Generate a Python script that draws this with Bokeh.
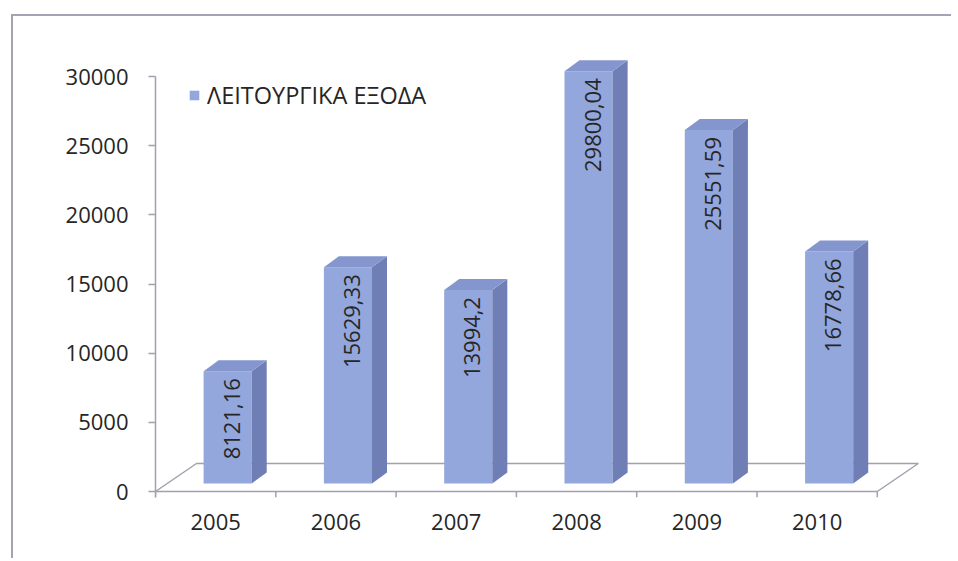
from bokeh.plotting import figure
from bokeh.models import FixedTicker, Legend, LegendItem, ColumnDataSource
from bokeh.embed import file_html
from bokeh.resources import INLINE
from bokeh.core.properties import value
import math

# ---- data ----
years = ["2005", "2006", "2007", "2008", "2009", "2010"]
expenses = [8121.16, 15629.33, 13994.2, 29800.04, 25551.59, 16778.66]
series_name = "ΛΕΙΤΟΥΡΓΙΚΑ ΕΞΟΔΑ"
y_ticks = [0, 5000, 10000, 15000, 20000, 25000, 30000]

# ---- layout constants (canvas pixels) ----
W, H = 940, 544
FL, FR, FT, FB = 142, 917, 24, 481     # frame edges
Z_PX = 475                               # canvas y of value 0
TOP_PX = 60                              # canvas y of value 30000
CAT_PX = 120.3
ppu = (Z_PX - TOP_PX) / y_ticks[-1]      # px per unit
y_start = -(FB - Z_PX) / ppu
y_end = (Z_PX - FT) / ppu
x_end = (FR - FL) / CAT_PX

def dx(px):
    return px / CAT_PX

def dy(px):
    return px / ppu

FLOOR = (41, 28)       # floor depth (right, up) px
BAR_F = (12, 8)        # bar front face shift
BAR_D = (15, 11)       # bar depth
BAR_W = 0.4

FONT = "Open Sans"
TXT = "#262626"
GRAY = "#a0a0ae"
FRONT = "#93a7dc"
SIDE = "#6f7fb6"
TOPC = "#8596cf"

p = figure(width=W, height=H, output_backend="svg", toolbar_location=None,
           x_range=(0, x_end), y_range=(y_start, y_end),
           min_border_left=FL, min_border_right=W - FR,
           min_border_top=FT, min_border_bottom=H - FB)
p.styles = {"margin-left": "11px", "margin-top": "14px",
            "border-left": "2px solid #a3a3b3", "border-top": "2px solid #a3a3b3"}
p.outline_line_color = None
p.grid.visible = False
p.background_fill_color = "white"
p.border_fill_color = "white"

n = len(years)
# floor
fx, fy = dx(FLOOR[0]), dy(FLOOR[1])
p.line([0, fx, n + fx, n], [0, fy, fy, 0], line_color=GRAY, line_width=1.5)
# x axis line and boundary ticks
p.line([0, n], [0, 0], line_color=GRAY, line_width=1.5)
p.segment(x0=list(range(n + 1)), y0=[0] * (n + 1), x1=list(range(n + 1)),
          y1=[y_start] * (n + 1), line_color=GRAY, line_width=1.5)

# bars
fxs, fys = dx(BAR_F[0]), dy(BAR_F[1])
ddx, ddy = dx(BAR_D[0]), dy(BAR_D[1])
front_x, front_y, side_x, side_y, top_x, top_y = [], [], [], [], [], []
for i, v in enumerate(expenses):
    l = i + 0.5 - BAR_W / 2 + fxs
    r = i + 0.5 + BAR_W / 2 + fxs
    b = fys
    t = fys + v
    front_x.append([l, r, r, l]); front_y.append([b, b, t, t])
    side_x.append([r, r + ddx, r + ddx, r]); side_y.append([b, b + ddy, t + ddy, t])
    top_x.append([l, r, r + ddx, l + ddx]); top_y.append([t, t, t + ddy, t + ddy])

front = p.patches(front_x, front_y, fill_color=FRONT, line_color=None)
p.patches(side_x, side_y, fill_color=SIDE, line_color=None)
p.patches(top_x, top_y, fill_color=TOPC, line_color=None)

def fmt(v):
    s = f"{v:.2f}".rstrip("0").rstrip(".")
    return s.replace(".", ",")

lab = ColumnDataSource(dict(
    x=[i + 0.5 + fxs + dx(4) for i in range(n)],
    y=[fys + v for v in expenses],
    t=[fmt(v) for v in expenses]))
p.text(x="x", y="y", text="t", source=lab, angle=math.pi / 2,
       text_align="right", text_baseline="middle", y_offset=7,
       text_font=value(FONT), text_font_size="22px", text_color=TXT)

# axes
p.yaxis.ticker = FixedTicker(ticks=y_ticks)
p.yaxis.bounds = (y_start, y_ticks[-1])
p.yaxis.axis_line_color = GRAY
p.yaxis.axis_line_width = 1.5
p.yaxis.major_tick_line_color = GRAY
p.yaxis.major_tick_line_width = 1.5
p.yaxis.major_tick_out = 7
p.yaxis.major_tick_in = 0
p.yaxis.minor_tick_line_color = None
p.yaxis.major_label_standoff = 20
p.yaxis.major_label_text_font = FONT
p.yaxis.major_label_text_font_size = "22px"
p.yaxis.major_label_text_color = TXT

centers = [i + 0.5 for i in range(n)]
p.xaxis.ticker = FixedTicker(ticks=centers)
p.xaxis.major_label_overrides = {c: y for c, y in zip(centers, years)}
p.xaxis.axis_line_color = None
p.xaxis.major_tick_line_color = None
p.xaxis.minor_tick_line_color = None
p.xaxis.major_tick_out = 0
p.xaxis.major_label_standoff = 16
p.xaxis.major_label_text_font = FONT
p.xaxis.major_label_text_font_size = "22px"
p.xaxis.major_label_text_color = TXT

legend = Legend(items=[LegendItem(label=series_name, renderers=[front])],
                location=(33, 386), orientation="vertical",
                glyph_width=12, glyph_height=12, label_standoff=7,
                label_text_font=FONT, label_text_font_size="23.5px",
                label_text_color=TXT, border_line_color=None,
                background_fill_alpha=0, padding=0, margin=0)
p.add_layout(legend)

open("out.html", "w").write(file_html(p, INLINE))
